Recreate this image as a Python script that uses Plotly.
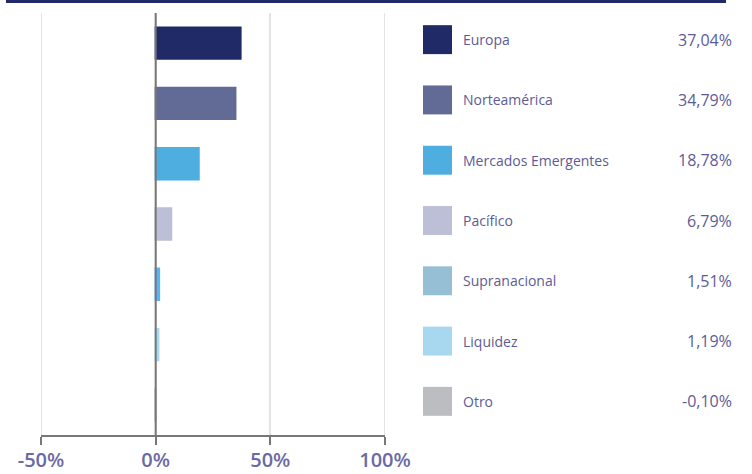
import plotly.graph_objects as go

categories = ["Europa", "Norteamérica", "Mercados Emergentes", "Pacífico", "Supranacional", "Liquidez", "Otro"]
values = [37.04, 34.79, 18.78, 6.79, 1.51, 1.19, -0.10]
value_labels = ["37,04%", "34,79%", "18,78%", "6,79%", "1,51%", "1,19%", "-0,10%"]
bar_colors = ["#1f2a66", "#626a96", "#4eaee0", "#bcbfd6", "#55b5fa", "#a8d8ef", "#bbbdc0"]
legend_colors = ["#1f2a66", "#626a96", "#4eaee0", "#bcbfd6", "#96bfd6", "#a8d8ef", "#bbbdc0"]
tick_vals = [-50, 0, 50, 100]
tick_text = ["-50%", "0%", "50%", "100%"]

W, H = 752, 474
L, R, T, B = 41, 385, 13, 435

def px(x):
    return (x - L) / (R - L)

def py(y):
    return (B - y) / (B - T)

fig = go.Figure()
fig.add_trace(go.Bar(
    x=values, y=categories, orientation="h",
    marker=dict(color=bar_colors, line=dict(width=2, color=bar_colors)),
    width=0.52, hoverinfo="skip", showlegend=False,
))

shapes = []
annotations = []
# top band
shapes.append(dict(type="rect", xref="paper", yref="paper",
                   x0=px(6), x1=px(726), y0=py(3), y1=py(0),
                   fillcolor="#1f2a66", line=dict(width=0), layer="above"))
# gridlines at range edges (plotly hides them)
for v in [tick_vals[0], tick_vals[-1]]:
    shapes.append(dict(type="line", xref="x", yref="paper", x0=v, x1=v, y0=0, y1=1,
                       line=dict(color="#e4e4e4", width=2), layer="below"))
# zero line
shapes.append(dict(type="line", xref="x", yref="paper", x0=0, x1=0, y0=0, y1=1,
                   line=dict(color="#777777", width=2), layer="above"))

for i, (cat, lab, col) in enumerate(zip(categories, value_labels, legend_colors)):
    off = -0.058
    shapes.append(dict(type="rect", xref="paper", yref="y",
                       x0=px(423), x1=px(452), y0=i + off - 0.24, y1=i + off + 0.24,
                       fillcolor=col, line=dict(width=0)))
    annotations.append(dict(xref="paper", yref="y", x=px(461), y=i + off, text=cat,
                            xanchor="left", yanchor="middle", showarrow=False,
                            font=dict(family="Open Sans", size=14, color="#5d5b96")))
    annotations.append(dict(xref="paper", yref="y", x=px(734), y=i + off, text=lab,
                            xanchor="right", yanchor="middle", showarrow=False,
                            font=dict(family="Open Sans", size=16, color="#5d5b96")))

fig.update_layout(
    width=W, height=H,
    margin=dict(l=L, r=W - R, t=T, b=H - B, pad=0, autoexpand=False),
    paper_bgcolor="white", plot_bgcolor="white",
    shapes=shapes, annotations=annotations,
    xaxis=dict(range=[-50, 100], tickvals=tick_vals, ticktext=tick_text,
               showgrid=True, gridcolor="#e4e4e4", gridwidth=2, zeroline=False,
               showline=True, linecolor="#777777", linewidth=2,
               ticks="outside", ticklen=8, tickwidth=2, tickcolor="#777777",
               tickfont=dict(family="Open Sans", size=20, color="#6b6aa5", weight=600),
               ticklabelstandoff=-2,
               automargin=False, fixedrange=True),
    yaxis=dict(range=[6.5, -0.5], showticklabels=False, showgrid=False,
               zeroline=False, showline=False, ticks="", fixedrange=True),
    bargap=0.45,
)

fig.write_html("out.html", config={"displayModeBar": False},
               post_script="document.body.style.margin='0';document.body.style.overflow='hidden';")
